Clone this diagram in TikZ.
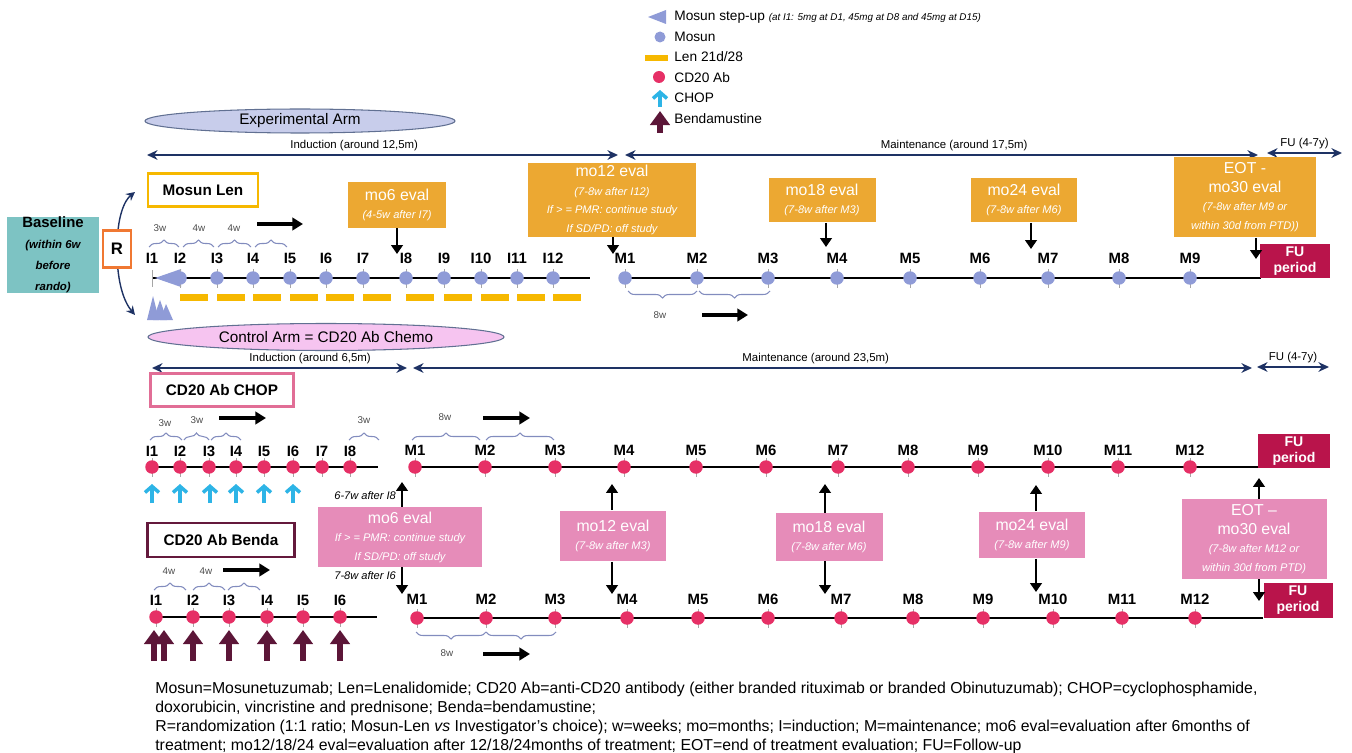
\documentclass[tikz,border=0pt]{standalone}
\usepackage{fontspec}
\setmainfont{Liberation Sans}
\usepackage{tikz}
\usetikzlibrary{arrows.meta,decorations.pathreplacing,shapes.geometric,positioning,calc}
\definecolor{mosun}{RGB}{143,155,215}
\definecolor{lenbar}{RGB}{246,184,0}
\definecolor{expbox}{RGB}{236,168,50}
\definecolor{cdab}{RGB}{230,48,102}
\definecolor{chopcol}{RGB}{45,180,230}
\definecolor{bendacol}{RGB}{92,22,56}
\definecolor{ctlbox}{RGB}{230,140,185}
\definecolor{fucol}{RGB}{185,20,75}
\definecolor{basecol}{RGB}{125,195,195}
\definecolor{randcol}{RGB}{240,120,50}
\definecolor{navy}{RGB}{30,50,100}
\definecolor{bracecol}{RGB}{130,140,190}
\definecolor{expell}{RGB}{200,205,235}
\definecolor{ctlell}{RGB}{246,196,240}
\definecolor{chopframe}{RGB}{225,110,150}
\definecolor{bendaframe}{RGB}{100,25,60}
\newcommand{\evnote}[1]{{\fontsize{6.3}{7.3}\selectfont\itshape #1}}
\newcommand{\subnote}[1]{{\fontsize{6.5}{7.3}\selectfont\bfseries\itshape #1}}

\begin{document}
\begin{tikzpicture}[% slide grid in px, y runs down
    x=0.02cm, y=-0.02cm,
    every node/.style={align=center, inner sep=1pt},
    tlab/.style={font=\bfseries\fontsize{8.5}{9}\selectfont},   % I1, M1 ...
    mdot/.style={circle, fill=#1, inner sep=0pt, minimum size=0.27cm},
    mtick/.style={draw=gray!70, line width=0.4pt},
    tline/.style={line width=1.7pt},
    phase/.style={draw=navy, line width=1.1pt, {Stealth[length=6pt,width=5.5pt]}-{Stealth[length=6pt,width=5.5pt]}},
    phaselab/.style={font=\fontsize{6.5}{7}\selectfont, above=1pt},
    armell/.style={ellipse, draw=navy!70, line width=0.6pt, inner sep=0pt, font=\fontsize{8.7}{9}\selectfont},
    armbox/.style={draw=#1, line width=1.6pt, fill=white, font=\bfseries\fontsize{8.7}{10}\selectfont},
    evalbox/.style={fill=#1, text=white, font=\fontsize{9}{10.5}\selectfont},
    evalarrow/.style={line width=1.6pt, -{Triangle[length=5pt,width=6.5pt]}},
    dirarrow/.style={line width=1.8pt, -{Triangle[length=6pt,width=7pt]}},
    brc/.style={decorate, decoration={brace, amplitude=0.14cm}, draw=bracecol, line width=0.6pt},
    brclab/.style={font=\fontsize{5.6}{6}\selectfont, text=black!70},
    fubox/.style={fill=fucol, text=white, font=\bfseries\fontsize{8}{9}\selectfont, minimum width=1.4cm, minimum height=0.7cm},
    choparrow/.style={draw=chopcol, line width=2pt, -{Straight Barb[length=3.5pt,width=8pt]}},
    bendaarrow/.style={draw=bendacol, line width=3pt, -{Triangle[length=8pt,width=11pt]}},
    legtext/.style={anchor=west, inner sep=0pt, font=\fontsize{7.8}{9}\selectfont}
  ]
  \useasboundingbox (0,0) rectangle (1352,753);

  % legend
  \fill[mosun] (648,17) -- (666,10) -- (666,24) -- cycle;
  \node[legtext] (lgstep) at (674,17) {Mosun step-up {\fontsize{5.6}{6}\selectfont\itshape (at I1: 5mg at D1, 45mg at D8 and 45mg at D15)}};
  \fill[mosun] (660,37) circle (5.5);
  \node[legtext] (lgmosun) at (674,37) {Mosun};
  \fill[lenbar] (645,55) rectangle (668,61);
  \node[legtext] (lglen) at (674,57) {Len 21d/28};
  \fill[cdab] (659,77) circle (6);
  \node[legtext] (lgcd) at (674,78) {CD20 Ab};
  \coordinate (lgchopA) at (660,107); \coordinate (lgchopB) at (660,90);
  \draw[choparrow] (lgchopA) -- (lgchopB);
  \node[legtext] (lgchop) at (674,98) {CHOP};
  \coordinate (lgbendaA) at (660,133); \coordinate (lgbendaB) at (660,111);
  \draw[bendaarrow] (lgbendaA) -- (lgbendaB);
  \node[legtext] (lgbenda) at (674,119) {Bendamustine};

  % baseline and randomisation
  \node[fill=basecol, minimum width=1.84cm, minimum height=1.48cm, inner sep=0pt] (baseline) at (53,255)
    {\bfseries\fontsize{8.5}{10}\selectfont Baseline\\\subnote{(within 6w}\\\subnote{before}\\\subnote{rando)}};
  \coordinate (rtop) at (135,192);
  \coordinate (rbot) at (135,315);
  \coordinate (rmid) at (117,250);
  \draw[navy, line width=0.8pt, -{Stealth[length=5pt,width=5pt]}] (rmid) .. controls (117,215) and (125,200) .. (rtop);
  \draw[navy, line width=0.8pt, -{Stealth[length=5pt,width=5pt]}] (rmid) .. controls (117,285) and (125,303) .. (rbot);
  \node[draw=randcol, line width=1.4pt, fill=white, minimum width=0.56cm, minimum height=0.74cm, font=\bfseries\fontsize{9.5}{10}\selectfont] (rbox) at (117,249) {R};

  %%%%%%%%%%%%%%%% experimental arm
  \node[armell, fill=expell, minimum width=6.2cm, minimum height=0.48cm] (exparm) at (300,121) {Experimental Arm};
  \coordinate (eindA) at (147,155); \coordinate (eindB) at (618,155);
  \coordinate (emntA) at (625,155); \coordinate (emntB) at (1258,155);
  \coordinate (efuA) at (1267,153); \coordinate (efuB) at (1342,153);
  \draw[phase] (eindA) -- node[phaselab, pos=0.44] (eindlab) {Induction (around 12,5m)} (eindB);
  \draw[phase] (emntA) -- node[phaselab, pos=0.52] (emntlab) {Maintenance (around 17,5m)} (emntB);
  \draw[phase] (efuA) -- node[phaselab] (efulab) {FU (4-7y)} (efuB);
  \node[armbox=lenbar, minimum width=2.2cm, minimum height=0.66cm] (mosunlen) at (203,190) {Mosun Len};

  % induction line
  \coordinate (eIs) at (152,278); \coordinate (eIe) at (590,278);
  \draw[tline] (eIs) -- (eIe);
  \draw[mtick] (152,270) -- (152,287);
  \fill[mosun] (155,278) -- (181,269) -- (181,287) -- cycle;
  \fill[mosun] (147,320) -- (153,296) -- (159,320) -- cycle;
  \fill[mosun] (153,320) -- (160,300) -- (167,320) -- cycle;
  \fill[mosun] (160,320) -- (166,304) -- (173,320) -- cycle;
  \foreach \n/\x in {1/152,2/180,3/217,4/253,5/290,6/326,7/363,8/406,9/444,10/481,11/517,12/553}{
    \node[tlab] (eI\n) at (\x,258) {I\n};
  }
  \foreach \n/\x in {2/180,3/217,4/253,5/290,6/326,7/363,8/406,9/444,10/481,11/517,12/553}{
    \draw[mtick] (\x,269) -- (\x,288);
    \node[mdot=mosun] (eId\n) at (\x,278) {};
    \fill[lenbar] (\x,294) rectangle ++(28,7);
  }
  \draw[brc] (149,247) -- (179,247); \node[brclab] (ew1) at (160,228) {3w};
  \draw[brc] (183,247) -- (214,247); \node[brclab] (ew2) at (199,228) {4w};
  \draw[brc] (218,247) -- (251,247); \node[brclab] (ew3) at (234,228) {4w};
  \draw[brc] (255,247) -- (287,247);
  \coordinate (edirA) at (257,224); \coordinate (edirB) at (303,224);
  \draw[dirarrow] (edirA) -- (edirB);

  % maintenance line
  \coordinate (eMs) at (625,278); \coordinate (eMe) at (1261,278);
  \draw[tline] (eMs) -- (eMe);
  \foreach \n/\x in {1/625,2/697,3/768,4/837,5/910,6/980,7/1048,8/1119,9/1190}{
    \node[tlab] (eM\n) at (\x,258) {M\n};
    \draw[mtick] (\x,269) -- (\x,288);
    \node[mdot=mosun] (eMd\n) at (\x,278) {};
  }
  \draw[brc] (697,291) -- (628,291);
  \draw[brc] (770,291) -- (699,291);
  \node[brclab] (ew8) at (660,315) {8w};
  \coordinate (emdirA) at (702,315); \coordinate (emdirB) at (748,315);
  \draw[dirarrow] (emdirA) -- (emdirB);
  \node[fubox] (efu) at (1295,261) {FU\\period};

  % evaluations
  \node[evalbox=expbox, minimum width=1.98cm, minimum height=0.92cm] (emo6) at (397,205) {mo6 eval\\\evnote{(4-5w after I7)}};
  \node[evalbox=expbox, minimum width=3.36cm, minimum height=1.48cm] (emo12) at (612,200) {mo12 eval\\\evnote{(7-8w after I12)}\\\evnote{If > = PMR: continue study}\\\evnote{If SD/PD: off study}};
  \node[evalbox=expbox, minimum width=2.14cm, minimum height=0.9cm] (emo18) at (822,200) {mo18 eval\\\evnote{(7-8w after M3)}};
  \node[evalbox=expbox, minimum width=2.12cm, minimum height=0.9cm] (emo24) at (1024,200) {mo24 eval\\\evnote{(7-8w after M6)}};
  \node[evalbox=expbox, minimum width=2.84cm, minimum height=1.62cm] (eeot) at (1245,197) {EOT -\\mo30 eval\\\evnote{(7-8w after M9 or}\\\evnote{within 30d from PTD))}};
  \coordinate (emo6t) at (397,254);
  \coordinate (emo12t) at (613,254);
  \coordinate (emo18t) at (826,247);
  \coordinate (emo24t) at (1031,249);
  \coordinate (eeott) at (1256,259);
  \draw[evalarrow] (emo6t |- emo6.south) -- (emo6t);
  \draw[evalarrow] (emo12t |- emo12.south) -- (emo12t);
  \draw[evalarrow] (emo18t |- emo18.south) -- (emo18t);
  \draw[evalarrow] (emo24t |- emo24.south) -- (emo24t);
  \draw[evalarrow] (eeott |- eeot.south) -- (eeott);

  %%%%%%%%%%%%%%%% control arm
  \node[armell, fill=ctlell, minimum width=7.12cm, minimum height=0.54cm] (ctlarm) at (326,337) {Control Arm = CD20 Ab Chemo};
  \coordinate (cindA) at (152,368); \coordinate (cindB) at (407,368);
  \coordinate (cmntA) at (413,368); \coordinate (cmntB) at (1252,368);
  \coordinate (cfuA) at (1257,367); \coordinate (cfuB) at (1329,367);
  \draw[phase] (cindA) -- node[phaselab, pos=0.62] (cindlab) {Induction (around 6,5m)} (cindB);
  \draw[phase] (cmntA) -- node[phaselab, pos=0.48] (cmntlab) {Maintenance (around 23,5m)} (cmntB);
  \draw[phase] (cfuA) -- node[phaselab] (cfulab) {FU (4-7y)} (cfuB);
  \node[armbox=chopframe, minimum width=2.86cm, minimum height=0.66cm] (cdchop) at (222,390) {CD20 Ab CHOP};
  \node[armbox=bendaframe, minimum width=2.94cm, minimum height=0.68cm] (cdbenda) at (221,540) {CD20 Ab Benda};

  % CHOP induction
  \coordinate (cIs) at (152,467); \coordinate (cIe) at (378,467);
  \draw[tline] (cIs) -- (cIe);
  \foreach \n/\x in {1/152,2/180,3/209,4/236,5/264,6/293,7/322,8/350}{
    \node[tlab] (cI\n) at (\x,451) {I\n};
    \draw[mtick] (\x,458) -- (\x,477);
    \node[mdot=cdab] (cId\n) at (\x,467) {};
  }
  \foreach \x in {152,180,210,236,264,293}{
    \draw[choparrow] (\x,503) -- (\x,484);
  }
  \draw[brc] (150,440) -- (182,440); \node[brclab] (cw1) at (165,423) {3w};
  \draw[brc] (184,440) -- (209,440); \node[brclab] (cw2) at (197,420) {3w};
  \draw[brc] (211,440) -- (241,440);
  \draw[brc] (349,440) -- (379,440); \node[brclab] (cw8) at (364,420) {3w};
  \coordinate (cdirA) at (219,418); \coordinate (cdirB) at (266,418);
  \draw[dirarrow] (cdirA) -- (cdirB);

  % CHOP maintenance
  \coordinate (cMs) at (415,467); \coordinate (cMe) at (1258,467);
  \draw[tline] (cMs) -- (cMe);
  \foreach \n/\x in {1/415,2/485,3/555,4/624,5/696,6/766,7/838,8/908,9/978,10/1048,11/1118,12/1190}{
    \node[tlab] (cM\n) at (\x,450) {M\n};
    \draw[mtick] (\x,458) -- (\x,477);
    \node[mdot=cdab] (cMd\n) at (\x,467) {};
  }
  \draw[brc] (412,440) -- (480,440); \node[brclab] (cwm) at (445,417) {8w};
  \draw[brc] (486,440) -- (554,440);
  \coordinate (cmdirA) at (483,418); \coordinate (cmdirB) at (530,418);
  \draw[dirarrow] (cmdirA) -- (cmdirB);
  \node[fubox, minimum width=1.44cm] (cfu) at (1294,451) {FU\\period};

  % Benda induction
  \coordinate (bIs) at (156,617); \coordinate (bIe) at (377,617);
  \draw[tline] (bIs) -- (bIe);
  \foreach \n/\x in {1/156,2/193,3/229,4/267,5/303,6/340}{
    \node[tlab] (bI\n) at (\x,600) {I\n};
    \draw[mtick] (\x,608) -- (\x,627);
    \node[mdot=cdab] (bId\n) at (\x,617) {};
  }
  \foreach \x in {154,164,193,229,267,303,340}{
    \draw[bendaarrow] (\x,661) -- (\x,630);
  }
  \draw[brc] (154,590) -- (186,590); \node[brclab] (bw1) at (169,571) {4w};
  \draw[brc] (193,590) -- (225,590); \node[brclab] (bw2) at (206,571) {4w};
  \draw[brc] (228,590) -- (260,590);
  \coordinate (bdirA) at (223,570); \coordinate (bdirB) at (270,570);
  \draw[dirarrow] (bdirA) -- (bdirB);

  % Benda maintenance
  \coordinate (bMs) at (417,618); \coordinate (bMe) at (1263,618);
  \draw[tline] (bMs) -- (bMe);
  \foreach \n/\x in {1/417,2/486,3/555,4/627,5/698,6/768,7/841,8/913,9/983,10/1053,11/1122,12/1195}{
    \node[tlab] (bM\n) at (\x,599) {M\n};
    \draw[mtick] (\x,609) -- (\x,628);
    \node[mdot=cdab] (bMd\n) at (\x,618) {};
  }
  \draw[brc] (486,632) -- (416,632);
  \draw[brc] (556,632) -- (486,632);
  \node[brclab] (bwm) at (447,653) {8w};
  \coordinate (bmdirA) at (483,654); \coordinate (bmdirB) at (530,654);
  \draw[dirarrow] (bmdirA) -- (bmdirB);
  \node[fubox, minimum width=1.38cm] (bfu) at (1298,600) {FU\\period};

  % control evaluations
  \node[evalbox=ctlbox, minimum width=3.3cm, minimum height=1.2cm] (cmo6) at (400,537) {mo6 eval\\\evnote{If > = PMR: continue study}\\\evnote{If SD/PD: off study}};
  \node[evalbox=ctlbox, minimum width=2.14cm, minimum height=1.02cm] (cmo12) at (613,536) {mo12 eval\\\evnote{(7-8w after M3)}};
  \node[evalbox=ctlbox, minimum width=2.14cm, minimum height=0.96cm] (cmo18) at (829,537) {mo18 eval\\\evnote{(7-8w after M6)}};
  \node[evalbox=ctlbox, minimum width=2.12cm, minimum height=0.94cm] (cmo24) at (1032,535) {mo24 eval\\\evnote{(7-8w after M9)}};
  \node[evalbox=ctlbox, minimum width=2.9cm, minimum height=1.6cm] (ceot) at (1254,539) {EOT --\\mo30 eval\\\evnote{(7-8w after M12 or}\\\evnote{within 30d from PTD)}};
  \foreach \b/\x/\u/\d in {cmo6/402/482/594, cmo12/612/484/594, cmo18/825/484/594, cmo24/1036/485/592, ceot/1259/478/601}{
    \coordinate (\b-up) at (\x,\u);
    \coordinate (\b-dn) at (\x,\d);
    \draw[evalarrow] (\b-up |- \b.north) -- (\b-up);
    \draw[evalarrow] (\b-dn |- \b.south) -- (\b-dn);
  }
  \node[anchor=east, font=\fontsize{6.3}{7}\selectfont\itshape] (cup6) at (398,496) {6-7w after I8};
  \node[anchor=east, font=\fontsize{6.3}{7}\selectfont\itshape] (cdn6) at (398,576) {7-8w after I6};

  % abbreviations
  \node[anchor=north west, align=left, inner sep=0pt, font=\fontsize{9}{10.8}\selectfont] (abbrev) at (155,682)
    {Mosun=Mosunetuzumab; Len=Lenalidomide; CD20 Ab=anti-CD20 antibody (either branded rituximab or branded Obinutuzumab); CHOP=cyclophosphamide,\\
     doxorubicin, vincristine and prednisone; Benda=bendamustine;\\
     R=randomization (1:1 ratio; Mosun-Len \textit{vs} Investigator's choice); w=weeks; mo=months; I=induction; M=maintenance; mo6 eval=evaluation after 6months of\\
     treatment; mo12/18/24 eval=evaluation after 12/18/24months of treatment; EOT=end of treatment evaluation; FU=Follow-up};
\end{tikzpicture}
\end{document}
